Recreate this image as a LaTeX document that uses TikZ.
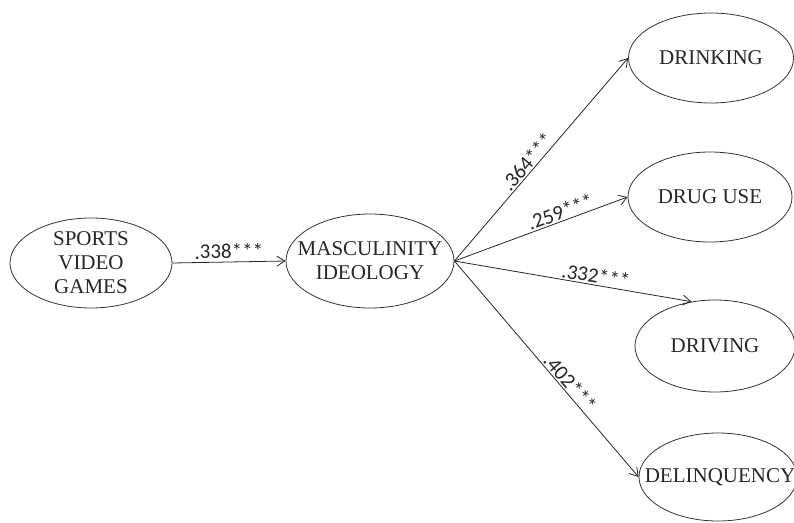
\documentclass[tikz,border=0pt]{standalone}
\usepackage{fontspec}
\setmainfont{Liberation Serif}
\newfontfamily\labfont{Carlito}
\usetikzlibrary{shapes.geometric,arrows.meta}
\begin{document}
\begin{tikzpicture}[x=1pt,y=-1pt,
  oval/.style={draw=black!80,line width=0.8pt,ellipse,inner sep=0pt},
  ovaltext/.style={font=\fontsize{21}{24}\selectfont,align=center,text=black!85},
  conn/.style={draw=black!85,line width=0.8pt,-{Straight Barb[length=8pt,width=10pt]}},
  coef/.style={font=\labfont\fontsize{21}{24}\selectfont,text=black!85,sloped,above,inner sep=1.5pt}]
\useasboundingbox (0,0) rectangle (794,522);
\node[oval,minimum width=162pt,minimum height=90pt,label={[ovaltext]center:SPORTS\\VIDEO\\GAMES}] (svg) at (91,263) {};
\node[oval,minimum width=168pt,minimum height=94pt,label={[ovaltext]center:MASCULINITY\\IDEOLOGY}] (masc) at (370,261) {};
\node[oval,minimum width=165pt,minimum height=90pt,label={[ovaltext]center:DRINKING}] (drink) at (711,58) {};
\node[oval,minimum width=164pt,minimum height=90pt,label={[ovaltext]center:DRUG USE}] (drug) at (710,197) {};
\node[oval,minimum width=160pt,minimum height=92pt,label={[ovaltext]center:DRIVING}] (drive) at (715,346) {};
\node[oval,minimum width=158pt,minimum height=88pt,label={[ovaltext,xshift=2pt]center:DELINQUENCY}] (delin) at (718,477) {};
\draw[conn] (svg.east) -- node[coef,pos=0.5,inner sep=3pt] {.338***} (masc.west);
\draw[conn] (masc.east) -- node[coef,pos=0.46] {.364***} (drink.west);
\draw[conn] (masc.east) -- node[coef,pos=0.63] {.259***} (drug.west);
\draw[conn] (masc.east) -- node[coef,pos=0.59] {.332***} (drive.118);
\draw[conn] (masc.east) -- node[coef,pos=0.59] {.402***} (delin.west);
\end{tikzpicture}
\end{document}
